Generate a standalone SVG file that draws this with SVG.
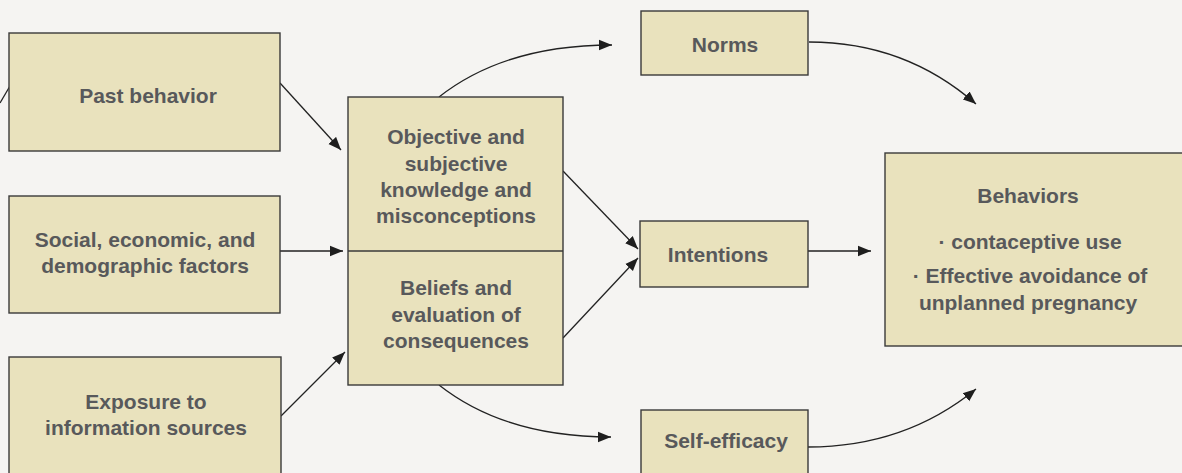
<svg xmlns="http://www.w3.org/2000/svg" width="1182" height="473" viewBox="0 0 1182 473">
<style>
.box{fill:#e9e2bd;stroke:#3a3a3a;stroke-width:1.4}
.t{font-family:"Liberation Sans",Arial,Helvetica,sans-serif;font-weight:bold;font-size:21px;fill:#58595b;text-anchor:middle}
.c{fill:none;stroke:#222;stroke-width:1.3}
</style>
<defs>
<marker id="ah" markerUnits="userSpaceOnUse" markerWidth="14" markerHeight="12" refX="13" refY="6" orient="auto">
<path d="M0,0.8 L13,6 L0,11.2 Z" fill="#1e1e1e"/>
</marker>
</defs>
<rect width="1182" height="473" fill="#f5f4f2"/>
<g id="connectors">
<path class="c" d="M0,103 L10,86"/>
<path class="c" d="M280,83 L341,150" marker-end="url(#ah)"/>
<path class="c" d="M280,251 L343,251" marker-end="url(#ah)"/>
<path class="c" d="M281,416 L345,352" marker-end="url(#ah)"/>
<path class="c" d="M563,171 L638,249" marker-end="url(#ah)"/>
<path class="c" d="M563,338 L638,258" marker-end="url(#ah)"/>
<path class="c" d="M808,251 L871,251" marker-end="url(#ah)"/>
<path class="c" d="M439,97 Q505,45 612,45" marker-end="url(#ah)"/>
<path class="c" d="M809,42 Q905,42 976,104" marker-end="url(#ah)"/>
<path class="c" d="M439,385 Q505,437 611,437" marker-end="url(#ah)"/>
<path class="c" d="M808,447 Q905,447 976,389" marker-end="url(#ah)"/>
</g>
<g id="past-behavior">
<rect class="box" x="9" y="33" width="271" height="118"/>
<text class="t" x="148" y="103">Past behavior</text>
</g>
<g id="social">
<rect class="box" x="9" y="196" width="271" height="117"/>
<text class="t" x="145" y="247">Social, economic, and</text>
<text class="t" x="145" y="273">demographic factors</text>
</g>
<g id="exposure">
<rect class="box" x="9" y="357" width="272" height="130"/>
<text class="t" x="146" y="409">Exposure to</text>
<text class="t" x="146" y="435">information sources</text>
</g>
<g id="knowledge-beliefs">
<rect class="box" x="348" y="97" width="215" height="288"/>
<line x1="348" y1="251" x2="563" y2="251" stroke="#3a3a3a" stroke-width="1.4"/>
<text class="t" x="456" y="144">Objective and</text>
<text class="t" x="456" y="170.5">subjective</text>
<text class="t" x="456" y="197">knowledge and</text>
<text class="t" x="456" y="223">misconceptions</text>
<text class="t" x="456" y="295">Beliefs and</text>
<text class="t" x="456" y="321.5">evaluation of</text>
<text class="t" x="456" y="348">consequences</text>
</g>
<g id="norms">
<rect class="box" x="641" y="11" width="167" height="64"/>
<text class="t" x="725" y="52">Norms</text>
</g>
<g id="intentions">
<rect class="box" x="640" y="221" width="168" height="66"/>
<text class="t" x="718" y="262">Intentions</text>
</g>
<g id="self-efficacy">
<rect class="box" x="641" y="410" width="167" height="75"/>
<text class="t" x="726" y="448">Self-efficacy</text>
</g>
<g id="behaviors">
<rect class="box" x="885" y="153" width="300" height="193"/>
<text class="t" x="1028" y="203">Behaviors</text>
<text class="t" x="1030" y="249">· contaceptive use</text>
<text class="t" x="1030" y="283">· Effective avoidance of</text>
<text class="t" x="1028" y="310">unplanned pregnancy</text>
</g>
</svg>
